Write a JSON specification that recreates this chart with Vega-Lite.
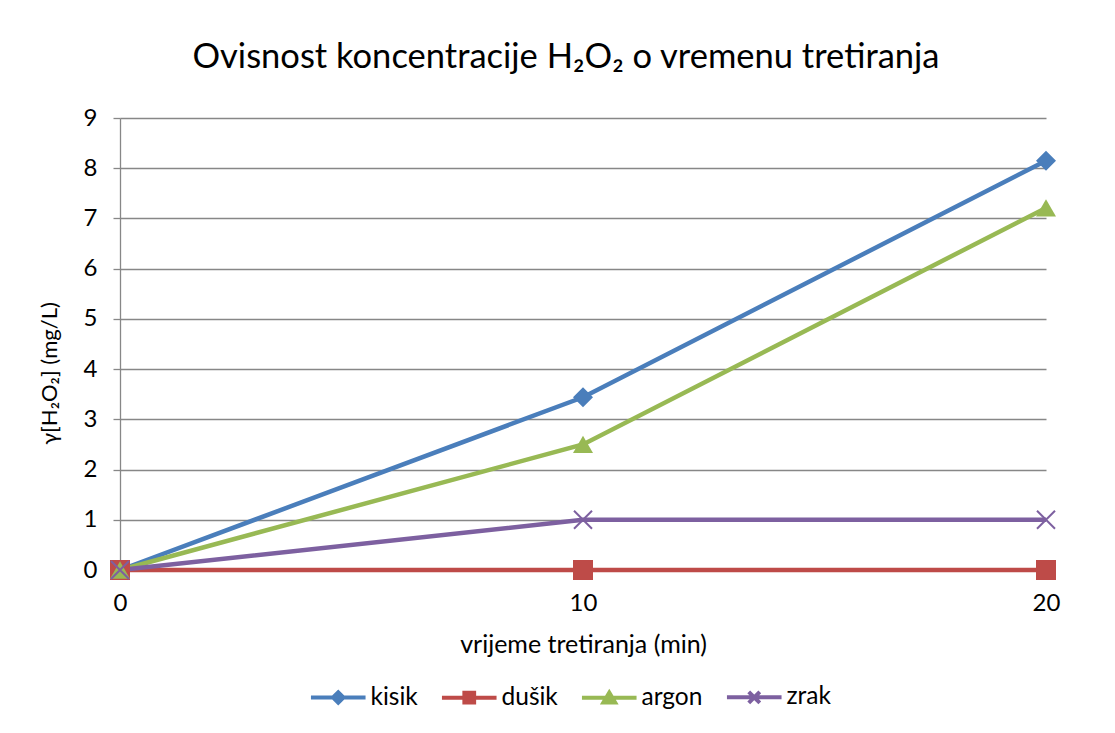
{
  "$schema": "https://vega.github.io/schema/vega-lite/v6.json",
  "width": 926,
  "height": 452,
  "autosize": {"type": "none"},
  "padding": {"left": 120, "top": 118, "right": 69, "bottom": 163},
  "background": "white",
  "title": {
    "text": "Ovisnost koncentracije H₂O₂ o vremenu tretiranja",
    "font": "Lato",
    "fontSize": 34.5,
    "fontWeight": "normal",
    "color": "#000000",
    "anchor": "middle",
    "dx": -17,
    "offset": 31
  },
  "config": {
    "view": {"stroke": null},
    "font": "Lato",
    "legend": {"symbolSize": 169}
  },
  "data": {
    "values": [
      {"series": "kisik", "t": 0, "value": 0},
      {"series": "kisik", "t": 10, "value": 3.44},
      {"series": "kisik", "t": 20, "value": 8.15},
      {"series": "dušik", "t": 0, "value": 0},
      {"series": "dušik", "t": 10, "value": 0},
      {"series": "dušik", "t": 20, "value": 0},
      {"series": "argon", "t": 0, "value": 0},
      {"series": "argon", "t": 10, "value": 2.5},
      {"series": "argon", "t": 20, "value": 7.21},
      {"series": "zrak", "t": 0, "value": 0},
      {"series": "zrak", "t": 10, "value": 1},
      {"series": "zrak", "t": 20, "value": 1}
    ]
  },
  "encoding": {
    "x": {
      "field": "t",
      "type": "quantitative",
      "scale": {"domain": [0, 20], "nice": false},
      "axis": {
        "values": [0, 10, 20],
        "title": "vrijeme tretiranja (min)",
        "grid": false,
        "ticks": false,
        "tickSize": 0,
        "labelFlush": false,
        "domainColor": "#878787",
        "domainWidth": 1.3,
        "labelFont": "Lato",
        "labelFontSize": 24,
        "labelColor": "#000000",
        "labelPadding": 21,
        "titleFont": "Lato",
        "titleFontSize": 25,
        "titleFontWeight": "normal",
        "titleColor": "#000000",
        "titlePadding": 17
      }
    },
    "y": {
      "field": "value",
      "type": "quantitative",
      "scale": {"domain": [0, 9], "nice": false},
      "axis": {
        "values": [0, 1, 2, 3, 4, 5, 6, 7, 8, 9],
        "title": "γ[H₂O₂] (mg/L)",
        "grid": true,
        "gridColor": "#878787",
        "gridWidth": 1.3,
        "domainColor": "#878787",
        "domainWidth": 1.3,
        "tickColor": "#878787",
        "tickWidth": 1.3,
        "tickSize": 7,
        "labelFont": "Lato",
        "labelFontSize": 24,
        "labelColor": "#000000",
        "labelPadding": 16,
        "titleFont": "Lato",
        "titleFontSize": 22,
        "titleFontWeight": "normal",
        "titleColor": "#000000",
        "titlePadding": 22,
        "titleY": 255
      }
    }
  },
  "layer": [
    {
      "mark": {"type": "line", "strokeWidth": 4.5},
      "encoding": {
        "color": {
          "field": "series",
          "type": "nominal",
          "sort": null,
          "scale": {
            "domain": ["kisik", "dušik", "argon", "zrak"],
            "range": ["#4A7EBB", "#BE4B48", "#98B954", "#7D60A0"]
          },
          "legend": {
            "title": null,
            "orient": "none",
            "legendX": 206,
            "legendY": 567,
            "direction": "horizontal",
            "labelFont": "Lato",
            "labelFontSize": 24.5,
            "labelColor": "#000000",
            "labelOffset": 20,
            "columnPadding": 15,
            "symbolSize": 169,
            "encode": {
              "symbols": {
                "update": {
                  "shape": {"signal": "datum.value === 'kisik' ? 'M-4.2,0H4.2M-0.8,0L0,-0.8L0.8,0L0,0.8Z' : datum.value === 'argon' ? 'M-4.2,0H4.2M0,-0.8L0.9,0.7L-0.9,0.7Z' : datum.value === 'zrak' ? 'M-4.2,0H4.2M-0.85,-0.85L0.85,0.85M-0.85,0.85L0.85,-0.85' : 'M-4.2,0H4.2M-0.75,-0.75H0.75V0.75H-0.75Z'"},
                  "fill": {"scale": "color", "field": "value"},
                  "stroke": {"scale": "color", "field": "value"},
                  "strokeWidth": {"value": 4},
                  "opacity": {"value": 1},
                  "fillOpacity": {"value": 1},
                  "strokeOpacity": {"value": 1}
                }
              }
            }
          }
        }
      }
    },
    {
      "transform": [{"filter": "datum.series !== 'zrak'"}],
      "mark": {"type": "point", "filled": true, "size": 400, "opacity": 1},
      "encoding": {
        "color": {"field": "series", "type": "nominal", "legend": null},
        "shape": {
          "field": "series",
          "type": "nominal",
          "scale": {
            "domain": ["kisik", "dušik", "argon"],
            "range": ["diamond", "square", "triangle-up"]
          },
          "legend": null
        }
      }
    },
    {
      "transform": [{"filter": "datum.series === 'zrak'"}],
      "mark": {
        "type": "point",
        "filled": false,
        "size": 324,
        "strokeWidth": 2,
        "opacity": 1,
        "shape": "M-1,-1L1,1M-1,1L1,-1"
      },
      "encoding": {
        "color": {"field": "series", "type": "nominal", "legend": null}
      }
    }
  ]
}
